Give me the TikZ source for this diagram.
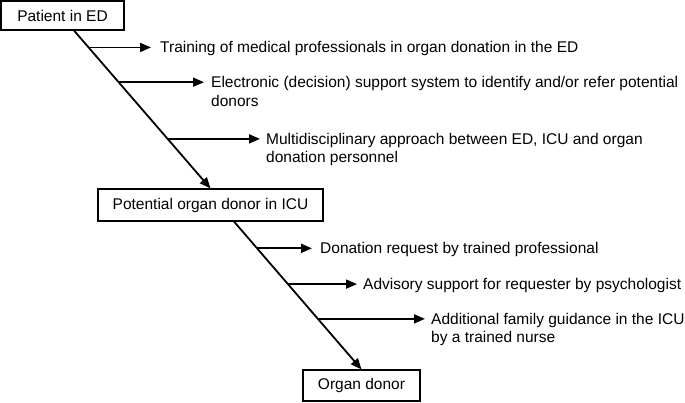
\documentclass[tikz,border=0pt]{standalone}
\usepackage{fontspec}
\setmainfont{Liberation Sans}
\usetikzlibrary{arrows.meta,calc}
\begin{document}
\begin{tikzpicture}[x=1pt,y=-1pt,
  box/.style={draw,line width=1.1pt,inner sep=0pt,font=\fontsize{15.5}{18.5}\selectfont},
  lbl/.style={inner ysep=0pt,inner xsep=0pt,align=left,anchor=base west,font=\fontsize{15.5}{18.5}\selectfont},
  diag/.style={line width=1.8pt,-{Triangle[length=11pt,width=9pt]}},
  arr/.style={line width=1.8pt,-{Triangle[length=11pt,width=9pt]}}]
\useasboundingbox (0,0) rectangle (685,402);
\node[box,minimum width=123pt,minimum height=29pt] (ed) at (62.5,15.5) {Patient in ED};
\node[box,minimum width=225pt,minimum height=32pt] (icu) at (210.5,205) {Potential organ donor in ICU};
\node[box,minimum width=117pt,minimum height=31pt] (don) at (361.5,385.5) {Organ donor};
% diagonals
\coordinate (s1) at ([xshift=11.5pt]ed.south);
\coordinate (s2) at ([xshift=23.5pt]icu.south);
\draw[diag] (s1) -- (icu.north);
\draw[diag] (s2) -- (don.north);
\path (s1) -- (icu.north)
  coordinate[pos=0.107] (b1)
  coordinate[pos=0.327] (b2)
  coordinate[pos=0.686] (b3);
\path (s2) -- (don.north)
  coordinate[pos=0.181] (b4)
  coordinate[pos=0.423] (b5)
  coordinate[pos=0.658] (b6);
% labels
\node[lbl] (t1) at ([yshift=-5.5pt]b1 -| 160,0) {Training of medical professionals in organ donation in the ED};
\node[lbl] (t2) at ([yshift=-24pt]b2 -| 211,0) {Electronic (decision) support system to identify and/or refer potential\\donors};
\node[lbl] (t3) at ([yshift=-24pt]b3 -| 266,0) {Multidisciplinary approach between ED, ICU and organ\\donation personnel};
\node[lbl] (t4) at ([yshift=-5.5pt]b4 -| 320,0) {Donation request by trained professional};
\node[lbl] (t5) at ([yshift=-5.5pt]b5 -| 363,0) {Advisory support for requester by psychologist};
\node[lbl] (t6) at ([yshift=-24pt]b6 -| 431,0) {Additional family guidance in the ICU\\by a trained nurse};
% branch arrows
\draw[arr] (b1) -- ([xshift=-9pt]b1 -| t1.west);
\draw[arr] (b2) -- ([xshift=-7pt]b2 -| t2.west);
\draw[arr] (b3) -- ([xshift=-6pt]b3 -| t3.west);
\draw[arr] (b4) -- ([xshift=-8pt]b4 -| t4.west);
\draw[arr] (b5) -- ([xshift=-6pt]b5 -| t5.west);
\draw[arr] (b6) -- ([xshift=-6pt]b6 -| t6.west);
\end{tikzpicture}
\end{document}
